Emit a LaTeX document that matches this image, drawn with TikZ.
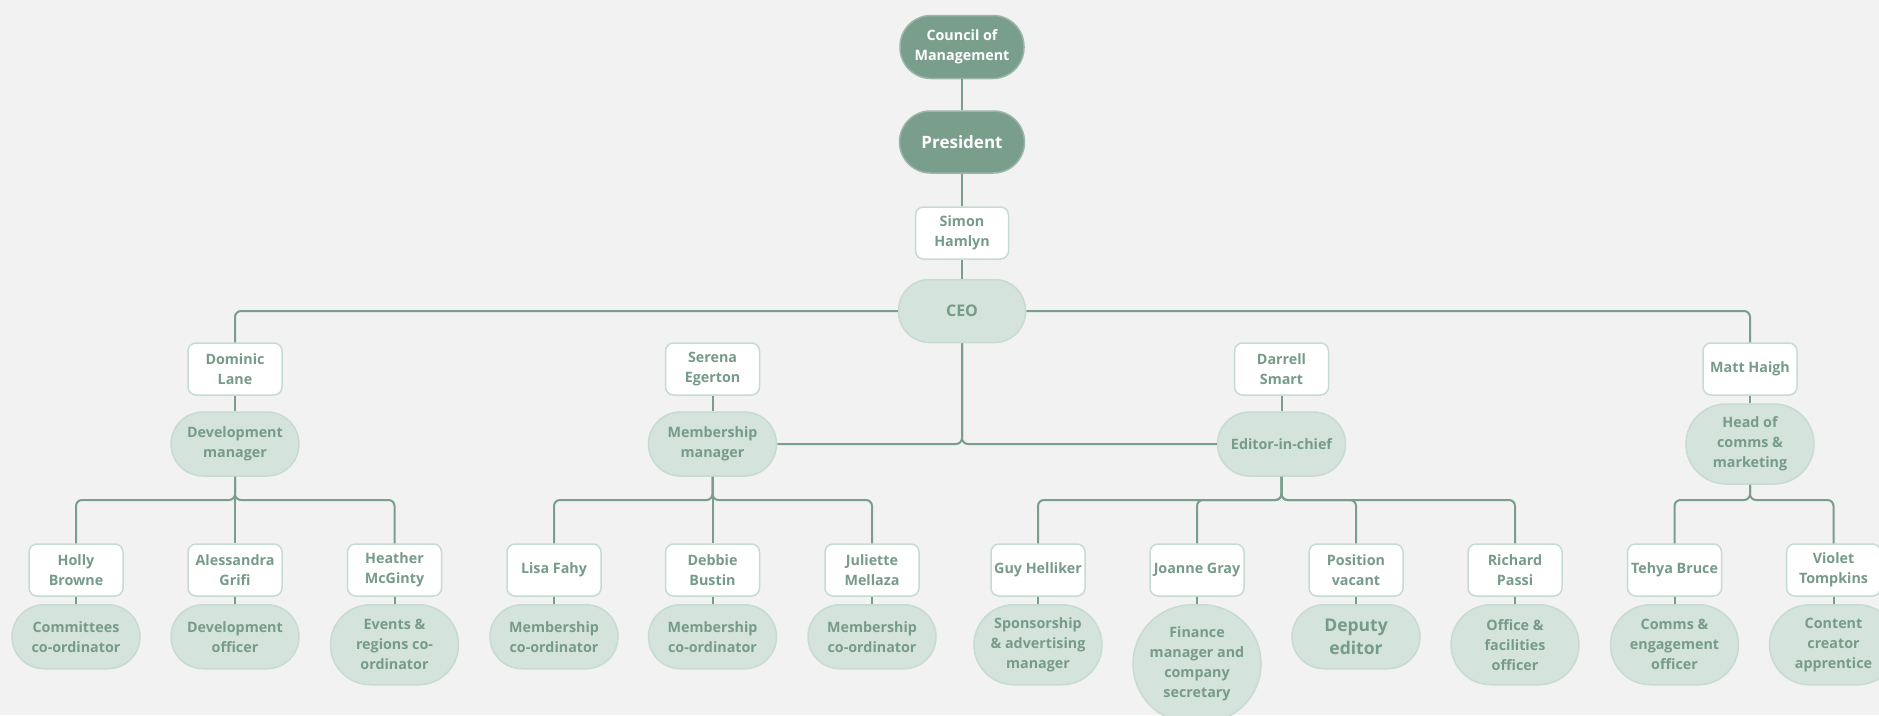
\documentclass[tikz,border=0pt]{standalone}
\usepackage{fontspec}
\setmainfont{Open Sans}
\definecolor{bgc}{HTML}{F2F2F2}
\definecolor{dk}{HTML}{7A9E8C}
\definecolor{lt}{HTML}{D4E3DC}
\definecolor{ltb}{HTML}{C6DBD1}
\definecolor{txt}{HTML}{769B88}
\tikzset{
  txtbase/.style={align=center, inner sep=0pt, font=\fontsize{14.3}{20}\selectfont\bfseries, text=txt},
  person/.style={txtbase, draw=ltb, fill=white, line width=1.5pt, rounded corners=8pt, minimum width=94pt, minimum height=52pt},
  pill/.style={txtbase, draw=ltb, fill=lt, line width=1.5pt, rounded corners=32pt, minimum width=128pt, minimum height=64pt},
  tallpill/.style={pill, rounded corners=40pt, minimum height=80pt},
  darknode/.style={txtbase, text=white, draw=dk!75!white, fill=dk, line width=1.5pt, rounded corners=31pt, minimum width=124pt, minimum height=63pt},
  conn/.style={draw=dk, line width=2pt, rounded corners=6pt},
}
\begin{document}
\begin{tikzpicture}[x=1pt,y=-1pt]
\fill[bgc] (0,0) rectangle (1879,715);
\useasboundingbox (0,0) rectangle (1879,715);

% top chain
\node[darknode] (council) at (962,47) {Council of\\Management};
\node[darknode, minimum width=125pt, minimum height=62pt, font=\fontsize{17}{22}\selectfont\bfseries] (pres) at (962,142) {President};
\node[person, minimum width=93pt] (simon) at (962,233) {Simon\\Hamlyn};
\node[pill, minimum width=127pt, minimum height=63pt, rounded corners=31pt, font=\fontsize{16}{20}\selectfont\bfseries] (ceo) at (962,311) {CEO};

% level 2
\node[person] (dominic) at (235,369) {Dominic\\Lane};
\node[person] (serena) at (712.5,369) {Serena\\Egerton};
\node[person] (darrell) at (1281.5,369) {Darrell\\Smart};
\node[person] (matt) at (1750,369) {Matt Haigh};

\node[pill] (devmgr) at (235,444) {Development\\manager};
\node[pill] (memmgr) at (712.5,444) {Membership\\manager};
\node[pill] (editor) at (1281.5,444) {Editor-in-chief};
\node[tallpill] (headcm) at (1750,444) {Head of\\comms \&\\marketing};

% level 3 persons
\node[person] (holly) at (76,570) {Holly\\Browne};
\node[person] (alessandra) at (235,570) {Alessandra\\Grifi};
\node[person] (heather) at (394.5,570) {Heather\\McGinty};
\node[person] (lisa) at (554,570) {Lisa Fahy};
\node[person] (debbie) at (712.5,570) {Debbie\\Bustin};
\node[person] (juliette) at (872,570) {Juliette\\Mellaza};
\node[person] (guy) at (1038,570) {Guy Helliker};
\node[person] (joanne) at (1197,570) {Joanne Gray};
\node[person] (vacant) at (1356,570) {Position\\vacant};
\node[person] (richard) at (1515,570) {Richard\\Passi};
\node[person] (tehya) at (1674.5,570) {Tehya Bruce};
\node[person] (violet) at (1833.5,570) {Violet\\Tompkins};

% level 3 roles
\node[pill, anchor=north] (committees) at (76,604) {Committees\\co-ordinator};
\node[pill, anchor=north] (devofficer) at (235,604) {Development\\officer};
\node[tallpill, anchor=north] (events) at (394.5,604) {Events \&\\regions co-\\ordinator};
\node[pill, anchor=north] (mc1) at (554,604) {Membership\\co-ordinator};
\node[pill, anchor=north] (mc2) at (712.5,604) {Membership\\co-ordinator};
\node[pill, anchor=north] (mc3) at (872,604) {Membership\\co-ordinator};
\node[tallpill, anchor=north] (sponsor) at (1038,604) {Sponsorship\\\& advertising\\manager};
\node[pill, anchor=north, minimum height=118pt, rounded corners=59pt] (finance) at (1197,604) {Finance\\manager and\\company\\secretary};
\node[pill, anchor=north, font=\fontsize{17.5}{23}\selectfont\bfseries] (deputy) at (1356,604) {Deputy\\editor};
\node[tallpill, anchor=north] (office) at (1515,604) {Office \&\\facilities\\officer};
\node[tallpill, anchor=north] (comms) at (1674.5,604) {Comms \&\\engagement\\officer};
\node[tallpill, anchor=north] (content) at (1833.5,604) {Content\\creator\\apprentice};

% junction coordinates
\coordinate (devj) at (235,500);
\coordinate (memj) at (712.5,500);
\coordinate (edj) at (1281.5,500);
\coordinate (hdj) at (1750,500);

% connectors
\draw[conn] (council.south) -- (pres.north);
\draw[conn] (pres.south) -- (simon.north);
\draw[conn] (simon.south) -- (ceo.north);
\draw[conn] (ceo.west) -| (dominic.north);
\draw[conn] (ceo.east) -| (matt.north);
\draw[conn] (ceo.south) |- (memmgr.east);
\draw[conn] (ceo.south) |- (editor.west);

\draw[conn] (dominic.south) -- (devmgr.north);
\draw[conn] (serena.south) -- (memmgr.north);
\draw[conn] (darrell.south) -- (editor.north);
\draw[conn] (matt.south) -- (headcm.north);

\draw[conn] (devmgr.south) -- (devj) -| (holly.north);
\draw[conn] (devmgr.south) -- (alessandra.north);
\draw[conn] (devmgr.south) -- (devj) -| (heather.north);

\draw[conn] (memmgr.south) -- (memj) -| (lisa.north);
\draw[conn] (memmgr.south) -- (debbie.north);
\draw[conn] (memmgr.south) -- (memj) -| (juliette.north);

\draw[conn] (editor.south) -- (edj) -| (guy.north);
\draw[conn] (editor.south) -- (edj) -| (joanne.north);
\draw[conn] (editor.south) -- (edj) -| (vacant.north);
\draw[conn] (editor.south) -- (edj) -| (richard.north);

\draw[conn] (headcm.south) -- (hdj) -| (tehya.north);
\draw[conn] (headcm.south) -- (hdj) -| (violet.north);

\foreach \p/\r in {holly/committees, alessandra/devofficer, heather/events, lisa/mc1, debbie/mc2, juliette/mc3, guy/sponsor, joanne/finance, vacant/deputy, richard/office, tehya/comms, violet/content}
  \draw[conn] (\p.south) -- (\r.north);
\end{tikzpicture}
\end{document}
